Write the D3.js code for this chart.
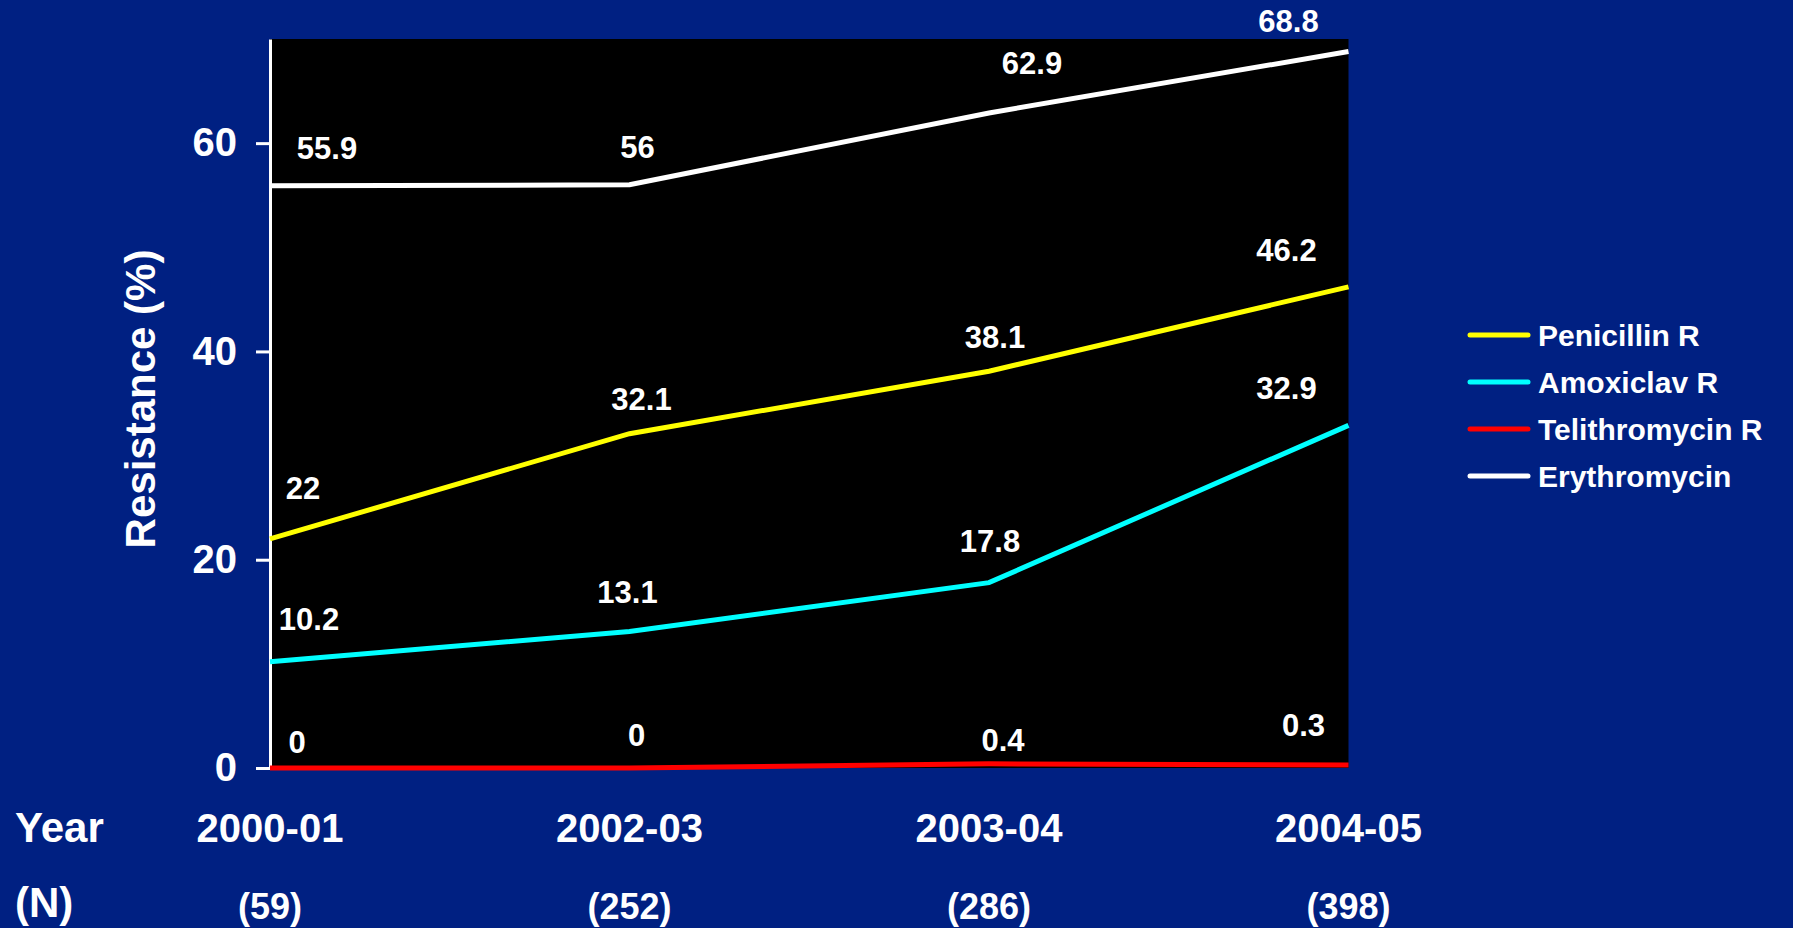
<!DOCTYPE html>
<html>
<head>
<meta charset="utf-8">
<script src="https://cdn.jsdelivr.net/npm/d3@7"></script>
<style>
  html, body { margin: 0; padding: 0; background: #002082; }
  svg { display: block; }
  text { font-family: Arial, "Liberation Sans", Helvetica, sans-serif; font-weight: bold; fill: #ffffff; }
</style>
</head>
<body>
<svg id="chart" width="1793" height="928"></svg>
<script>
// ---- data ----
const periods = ["2000-01", "2002-03", "2003-04", "2004-05"];
const sampleSizes = ["(59)", "(252)", "(286)", "(398)"];
const seriesNames = ["Penicillin R", "Amoxiclav R", "Telithromycin R", "Erythromycin"];
const penicillin = [22, 32.1, 38.1, 46.2];
const amoxiclav = [10.2, 13.1, 17.8, 32.9];
const telithromycin = [0, 0, 0.4, 0.3];
const erythromycin = [55.9, 56, 62.9, 68.8];
const yTicks = [0, 20, 40, 60];

// ---- layout / style (not data) ----
const seriesColors = ["#ffff00", "#00ffff", "#ff0000", "#ffffff"];
// label nudges in px relative to each point [dx, dy of label centre]
const labelNudge = [
  [[33, -51], [12, -35], [6, -34], [-62, -37]],
  [[39, -43], [-2, -40], [1, -42], [-62, -37]],
  [[27, -26], [7, -33], [14, -24], [-45, -40]],
  [[57, -38], [8, -38], [43, -50], [-60, -30]]
];

const svg = d3.select("#chart");
const W = 1793, H = 928;
svg.append("rect").attr("width", W).attr("height", H).attr("fill", "#002082");

const plot = { left: 270, right: 1348.5, top: 39, bottom: 768 };

const x = d3.scalePoint().domain(periods).range([plot.left, plot.right]);
const y = d3.scaleLinear().domain([0, 70]).range([plot.bottom, plot.top]);

// plot area
svg.append("rect")
  .attr("x", plot.left).attr("y", plot.top)
  .attr("width", plot.right - plot.left).attr("height", plot.bottom - plot.top)
  .attr("fill", "#000000");

// y axis
const yAxis = d3.axisLeft(y).tickValues(yTicks).tickSize(14).tickSizeOuter(0).tickPadding(19);
const gy = svg.append("g").attr("transform", `translate(${plot.left},0)`).call(yAxis);
gy.select(".domain").attr("stroke", "#ffffff").attr("stroke-width", 3);
gy.selectAll(".tick line").attr("stroke", "#ffffff").attr("stroke-width", 3);
gy.selectAll(".tick text")
  .attr("fill", "#ffffff")
  .style("font-size", "40px")
  .style("font-weight", "bold")
  .style("font-family", "Arial, 'Liberation Sans', sans-serif");

// y title
svg.append("text")
  .attr("transform", `translate(155,399) rotate(-90)`)
  .attr("text-anchor", "middle")
  .style("font-size", "42px")
  .text("Resistance (%)");

// lines
const allSeries = [penicillin, amoxiclav, telithromycin, erythromycin];
const line = d3.line().x((d, i) => x(periods[i])).y(d => y(d));

allSeries.forEach((vals, si) => {
  svg.append("path")
    .datum(vals)
    .attr("d", line)
    .attr("fill", "none")
    .attr("stroke", seriesColors[si])
    .attr("stroke-width", 5)
    .attr("stroke-linejoin", "miter");
});

// data labels
allSeries.forEach((vals, si) => {
  svg.append("g").selectAll("text")
    .data(vals)
    .join("text")
    .attr("x", (d, i) => x(periods[i]) + labelNudge[si][i][0])
    .attr("y", (d, i) => y(d) + labelNudge[si][i][1] + 11)
    .attr("text-anchor", "middle")
    .style("font-size", "31px")
    .text(d => String(d));
});

// x category labels
svg.append("text").attr("x", 15).attr("y", 842).style("font-size", "42px").text("Year");
svg.append("text").attr("x", 15).attr("y", 917).style("font-size", "42px").text("(N)");

svg.append("g").selectAll("text")
  .data(periods)
  .join("text")
  .attr("x", d => x(d))
  .attr("y", 842)
  .attr("text-anchor", "middle")
  .style("font-size", "40px")
  .text(d => d);

svg.append("g").selectAll("text")
  .data(sampleSizes)
  .join("text")
  .attr("x", (d, i) => x(periods[i]))
  .attr("y", 919)
  .attr("text-anchor", "middle")
  .style("font-size", "36px")
  .text(d => d);

// legend
const legendY = d3.scalePoint().domain(seriesNames).range([335, 476]);
const lg = svg.append("g");
seriesNames.forEach((name, i) => {
  const cy = legendY(name);
  lg.append("line")
    .attr("x1", 1470).attr("x2", 1528)
    .attr("y1", cy).attr("y2", cy)
    .attr("stroke", seriesColors[i])
    .attr("stroke-width", 5)
    .attr("stroke-linecap", "round");
  lg.append("text")
    .attr("x", 1538).attr("y", cy + 11)
    .style("font-size", "30px")
    .text(name);
});
</script>
</body>
</html>
